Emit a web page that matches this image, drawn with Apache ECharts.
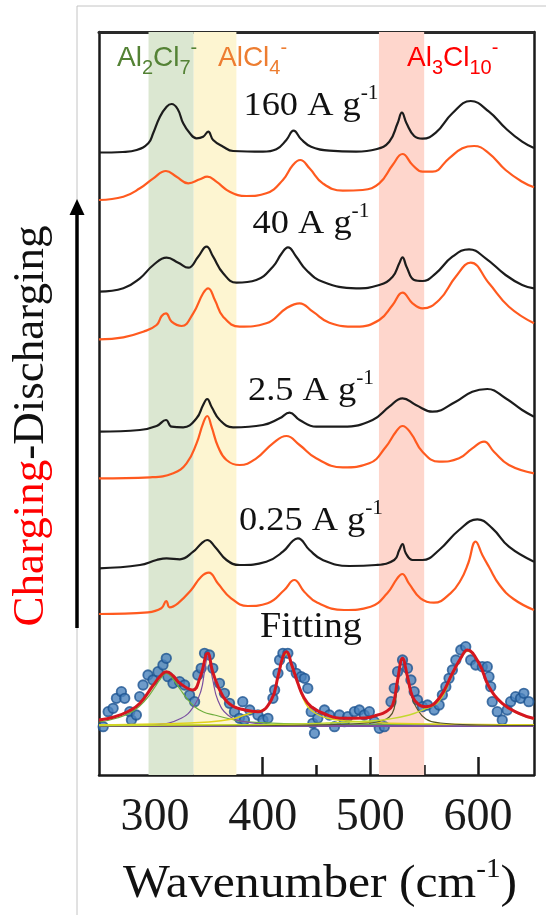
<!DOCTYPE html>
<html><head><meta charset="utf-8">
<script src="https://cdn.jsdelivr.net/npm/echarts@6/dist/echarts.min.js"></script>
<style>html,body{margin:0;padding:0;background:#fff}#c{width:546px;height:915px}</style>
</head><body><div id="c"></div>
<script>
// ---- axis / annotation data ----
const xMin = 248, xMax = 652;
const xTicks = [300, 400, 500, 600];
const xMinorTicks = [350, 450, 550];
const bandGreen = [294, 336];
const bandYellow = [336, 375.6];
const bandRed = [508, 550];

// ---- spectra (wavenumber, intensity a.u. incl. stack offset) ----
const dis160 = [[248,622.5],[270,623],[283,625],[293.8,631.7],[298.3,641.7],[304.6,658.3],[310.8,668.3],[315.4,671],[321,666],[326.2,651.7],[332.4,641.7],[338.6,636.7],[344.7,638.3],[349.4,643.3],[354,635],[363.3,628.3],[372.5,624],[400.3,623.3],[412.7,625.7],[422,635],[428.7,644.3],[435.8,635.7],[445,628.3],[462,624.3],[486.8,623.3],[505.3,625.7],[517.6,633.3],[525.3,651.7],[529.3,662.3],[533.6,651.7],[540.7,639],[548.4,636.3],[560.8,642.3],[576.2,661.7],[593.2,674],[610.2,663.3],[625.6,646.7],[641,633.3],[652,627]];
const chg160 = [[248,575],[270.6,578.3],[286,586.7],[298.5,596.7],[310.2,604],[320,598.3],[330.9,591.7],[341.7,595.7],[348.5,598.3],[357,593.3],[369.4,583.3],[384.9,579],[403.4,581.7],[418.8,595],[428.1,610],[434.9,615],[443.5,606.7],[455.8,591.7],[474.4,584.3],[492.9,585],[508.3,591.7],[520.7,610],[529.9,621],[539.2,610],[548.4,603.3],[557.7,603.3],[573.1,616.7],[585.5,626.7],[596.3,629],[610.2,621.7],[625.6,605],[641,593.3],[652,587.7]];
const dis40 = [[248,483.3],[270.6,486.7],[286,496.7],[298.5,510],[310.8,517.3],[321.6,512.3],[330.9,507.3],[340.1,518.3],[347.9,528.3],[354,518.3],[363.3,501.7],[375.6,492.3],[394.1,495],[409.5,508.3],[417.3,521],[423.5,527.7],[431.2,518.3],[440.5,505],[455.8,493.3],[486.8,486.7],[508.3,490],[520.7,498.3],[526.9,511.7],[529.9,517.7],[533.6,508.3],[540.7,495],[548.4,494],[560.8,501.7],[576.2,518.3],[591.7,525.7],[607.1,516.7],[625.6,500],[641,490],[652,486.7]];
const chg40 = [[248,435.7],[270.6,437.7],[289.2,443.3],[301.5,450],[306.2,459],[310.2,461.7],[315.4,453.3],[324.7,449],[335.5,461.7],[344.7,481.7],[349.4,486.7],[355.6,475],[363.3,458.3],[378.7,448.3],[403.4,451.7],[422,466.7],[434.3,471.7],[446.6,463.3],[462,452.3],[486.8,448.3],[508.3,455],[520.7,470],[529.9,482.3],[539.2,471.7],[548.4,466.7],[563.9,475],[579.3,498.3],[593.2,512.3],[610.2,491.7],[628.7,468.3],[652,451.7]];
const dis2p5 = [[248,343.3],[286,345],[301.5,349],[310.2,355],[315.4,348.3],[326.2,347.7],[338.6,356.7],[344.7,370],[348.5,376],[352.5,368.3],[360.2,355],[372.5,347.7],[400.3,350],[415.7,356.7],[425,362.3],[434.3,355],[449.7,348.3],[474.4,348.3],[502.1,355],[517.6,368.3],[529.9,376.7],[542.3,370],[557.7,363.3],[579.3,373.3],[594.7,383.3],[608.6,386],[625.6,376.7],[641,365],[652,358.3]];
const chg2p5 = [[248,296.7],[295.4,297.7],[317,301.7],[329.3,311.7],[338.6,331.7],[344.7,351.7],[348.5,359],[352.5,348.3],[358.6,328.3],[366.4,315],[378.7,310],[394.1,316.7],[409.5,331.7],[422,339],[434.3,330],[449.7,316.7],[474.4,307.7],[499,311.7],[514.5,328.3],[523.8,343.3],[529.9,349],[537.7,341.7],[548.4,323.3],[563.9,313.3],[582.4,316.7],[594.7,326.7],[605.6,333.3],[614.8,323.3],[628.7,310],[652,301.7]];
const dis0p25 = [[248,206.7],[286,210],[301.5,215],[310.8,216.7],[323.1,215.7],[335.5,223.3],[343.2,231.7],[348.5,235],[355.6,228.3],[366.4,215],[378.7,210],[403.4,213.3],[418.8,223.3],[428.1,234.3],[432.7,236.7],[443.5,225],[455.8,215],[480.6,209],[505.3,210],[522.2,215],[526.9,225],[529.9,231],[533,221.7],[539.2,215],[548.4,215],[563.9,225],[582.4,245],[599.4,255.7],[613.3,246.7],[628.7,228.3],[652,213.3]];
const chg0p25 = [[248,161],[293.5,162.7],[305.9,166.7],[310.5,174],[313.6,167.7],[321.3,171.7],[333.6,185],[342.9,198.3],[350,202.3],[358.3,191.7],[370.7,176.7],[386.1,169],[404.6,171.7],[420.1,185],[429.4,195],[438.6,183.3],[450.9,172.3],[475.6,165],[500.3,168.3],[515.7,181.7],[525,196.7],[529.6,201],[535.8,191.7],[546.6,176.7],[559,172.3],[574.4,181.7],[584,195],[591,212],[597.8,233.3],[604,220],[610.2,208],[620,190],[633,176],[652,165]];

// ---- fitting panel ----
const fitPoints = [[251.9,48.3],[256.5,63.3],[261.1,66.7],[264.2,76.7],[268.8,83.3],[271.9,76.7],[276.6,63.3],[278.1,55],[282.7,60],[285.8,78.3],[288.9,90],[293.5,100],[298.1,95],[302.8,103.3],[307.4,110],[310.5,116.7],[312,98.3],[316.7,91.7],[322.9,93.3],[327.5,90],[332.1,80],[336.8,73.3],[339.8,100],[342.9,106.7],[346,121.7],[350.6,120],[353.7,106.7],[359.9,91.7],[364.5,81.7],[369.2,71.7],[373.8,63.3],[378.4,56.7],[381.5,73.3],[383.1,55],[388,65],[395.6,60],[400.3,55],[404.9,56.7],[409.5,76.7],[411.1,85],[414.2,101.7],[415.7,115],[418.8,121.7],[423.4,121.7],[426.6,108.3],[431.2,101.7],[435.8,98.3],[438.9,96.7],[441.9,86.7],[445.1,63.3],[446.6,51.7],[448.1,41.7],[451.2,56.7],[457.4,65],[462,60],[466.7,48.3],[471.3,60],[475.9,53.3],[479,58.3],[485.2,63.3],[489.8,65],[494.4,60],[499.1,63.3],[503.7,53.3],[508.3,46.7],[513,48.3],[519.2,73.3],[522.2,86.7],[525.3,103.3],[529.9,115],[534.5,106.7],[537.7,95],[540.7,83.3],[543.8,75],[548.4,68.3],[553.1,70],[559.3,65],[563.9,70],[566.9,80],[570.1,88.3],[573.1,96.7],[576.2,105],[579.4,115],[584,125],[588.6,128.3],[593.2,115],[597.9,110],[604,108.3],[608.6,108.3],[610.2,98.3],[611.8,88.3],[613.2,73.3],[617.9,63.3],[622.5,55],[627.1,65],[630.3,73.3],[634.9,78.3],[639.5,76.7],[642.6,81.7],[647.2,73.3]];
const fitSum = [[248,55],[262,58],[276,64],[286,71.7],[298.5,90],[305,99],[310.5,103.3],[317,99],[323.1,91.7],[335.2,85],[342,98],[349,121.7],[354,101.7],[363.3,78.3],[372,69],[383.3,65],[395.6,63.3],[408,75],[414.2,98.3],[418.8,118.3],[422,123.3],[427,110],[432.7,91.7],[438,78],[445.1,68.3],[460,60],[475.9,56.7],[495,57],[506.8,60],[514,63],[520.7,70],[525.3,95],[529.9,116.7],[534.5,98.3],[539.2,78.3],[545.4,70],[551.6,68.3],[563.9,76.7],[576.2,101.7],[584,117],[590.1,125],[600.9,111.7],[610.2,88.3],[622.5,71.7],[638,61.7],[652,56.5]];
const compA = [[248,53],[265,57],[280,64],[292,76],[300,88],[305,96],[310.5,101.5],[316,97],[323.8,85],[330,76],[336.8,68.3],[345,63],[355.2,60],[370,56],[383,53.3],[420,51.5],[500,50.5],[652,50]];
const compB = [[248,49],[300,50.5],[324.4,56.7],[336.8,70],[342.9,85],[346,103.3],[349,118.3],[353.7,95],[358.3,75],[367.6,60],[383,53.3],[420,50],[652,49]];
const compC = [[248,50],[300,51],[350,53],[372,56],[383.3,60],[395,64],[401.9,66],[409.5,78.3],[414.2,97],[418.8,116],[422,121.5],[427,108],[432.7,91.7],[437,78],[441.9,68.3],[450,61],[460.5,56.7],[480,54],[506.8,52.3],[560,51],[652,50]];
const compD = [[248,49],[450,50],[500,52],[510,54],[517.6,58],[522,66],[525.3,90],[529.9,115],[534.5,96],[538,80],[542.3,68.3],[551.6,56],[565,52],[600,50],[652,49.5]];
const compE = [[248,49.5],[400,50.5],[460,52],[500,54],[517.6,56],[536.1,60],[548.4,65],[563.9,74],[576.2,100],[584,116],[590.1,124],[600.9,111],[610.2,88],[622.5,71],[638,61],[652,56]];
const baseY = [[248,50],[652,50]];
const baseP = [[248,48.5],[652,48.5]];

// ---- labels ----
const rateLabels = [['160 A g', 84], ['40 A g', 202], ['2.5 A g', 369], ['0.25 A g', 499]];

const BLACK = '#1c1c1c', ORANGE = '#ff5a1f';
const SERIF = '"Liberation Serif","Times New Roman",serif';
const SANS = '"Liberation Sans",Arial,sans-serif';

function line(data, color, width, z) {
  return {type:'line', data, smooth:0.45, showSymbol:false, symbol:'none',
    lineStyle:{color, width}, z, silent:true, animation:false};
}

const series = [
  {type:'line', data:[], z:1, silent:true, animation:false,
   markArea:{silent:true, data:[
     [{xAxis:bandGreen[0], itemStyle:{color:'#dbe7d1'}}, {xAxis:bandGreen[1]}],
     [{xAxis:bandYellow[0], itemStyle:{color:'#fdf5d1'}}, {xAxis:bandYellow[1]}],
     [{xAxis:bandRed[0], itemStyle:{color:'#fed6cc'}}, {xAxis:bandRed[1]}]
   ]}},
  line(dis160, BLACK, 2.2, 5), line(chg160, ORANGE, 2.2, 5),
  line(dis40, BLACK, 2.2, 5), line(chg40, ORANGE, 2.2, 5),
  line(dis2p5, BLACK, 2.2, 5), line(chg2p5, ORANGE, 2.2, 5),
  line(dis0p25, BLACK, 2.2, 5), line(chg0p25, ORANGE, 2.2, 5),
  {type:'scatter', data:fitPoints, symbolSize:9.5, z:3, silent:true, animation:false,
   itemStyle:{color:'#4a82bd', borderColor:'#1d5491', borderWidth:1.8}},
  line(baseY, '#d8d21a', 1.5, 4), line(baseP, '#7a4fa0', 1.2, 4),
  line(compA, '#6fae3e', 1.2, 4), line(compB, '#7a4fa0', 1.2, 4),
  line(compC, '#e2d21c', 1.4, 4), line(compD, '#55552a', 1.2, 4),
  line(compE, '#c3d82e', 1.4, 4),
  line(fitSum, '#d4161f', 3, 6)
];

const graphics = [
  {type:'line', shape:{x1:77, y1:6, x2:77, y2:915}, style:{stroke:'#c4c4c4', lineWidth:1}, z:1},
  {type:'line', shape:{x1:77, y1:6, x2:546, y2:6}, style:{stroke:'#c4c4c4', lineWidth:1}, z:1},
  {type:'line', shape:{x1:77, y1:628, x2:77, y2:212}, style:{stroke:'#000', lineWidth:3.5}, z:10},
  {type:'polygon', shape:{points:[[77,199],[69.5,215],[84.5,215]]}, style:{fill:'#000'}, z:10},
  {type:'text', x:31, y:426, rotation:Math.PI/2, z:10, style:{
    text:'{r|Charging}{k|-Discharging}', align:'center', verticalAlign:'middle',
    rich:{r:{fontSize:45, fontFamily:SERIF, fill:'#ff0000'}, k:{fontSize:45, fontFamily:SERIF, fill:'#111'}}}},
  {type:'text', left:117, top:38, z:10, style:{
    text:'{a|Al}{s|2}{a|Cl}{s|7}{p|-}',
    rich:{a:{fontSize:28, fontFamily:SANS, fill:'#548235', lineHeight:40},
          s:{fontSize:20, fontFamily:SANS, fill:'#548235', lineHeight:20, verticalAlign:'bottom'},
          p:{fontSize:20, fontFamily:SANS, fill:'#548235', lineHeight:20, verticalAlign:'top'}}}},
  {type:'text', left:218, top:38, z:10, style:{
    text:'{a|AlCl}{s|4}{p|-}',
    rich:{a:{fontSize:28, fontFamily:SANS, fill:'#ed7d31', lineHeight:40},
          s:{fontSize:20, fontFamily:SANS, fill:'#ed7d31', lineHeight:20, verticalAlign:'bottom'},
          p:{fontSize:20, fontFamily:SANS, fill:'#ed7d31', lineHeight:20, verticalAlign:'top'}}}},
  {type:'text', left:407, top:38, z:10, style:{
    text:'{a|Al}{s|3}{a|Cl}{s|10}{p|-}',
    rich:{a:{fontSize:28, fontFamily:SANS, fill:'#ff0000', lineHeight:40},
          s:{fontSize:20, fontFamily:SANS, fill:'#ff0000', lineHeight:20, verticalAlign:'bottom'},
          p:{fontSize:20, fontFamily:SANS, fill:'#ff0000', lineHeight:20, verticalAlign:'top'}}}},
  {type:'text', x:311, y:610, scaleX:1.09, z:10, style:{text:'Fitting', align:'center', verticalAlign:'top',
    font:'35px ' + SERIF, fill:'#111'}},
  {type:'text', x:320, y:856, scaleX:1.08, z:10, style:{
    text:'{n|Wavenumber (cm}{s|-1}{n|)}', align:'center', verticalAlign:'top',
    rich:{n:{fontSize:46, fontFamily:SERIF, fill:'#111', lineHeight:58},
          s:{fontSize:27, fontFamily:SERIF, fill:'#111', lineHeight:47, verticalAlign:'top'}}}}
];
rateLabels.forEach(([t, y]) => graphics.push({type:'text', x:311, y, scaleX:1.07, z:10, style:{
  text:'{n|' + t + '}{s|-1}', align:'center', verticalAlign:'top',
  rich:{n:{fontSize:34, fontFamily:SERIF, fill:'#111', lineHeight:44},
        s:{fontSize:20, fontFamily:SERIF, fill:'#111', lineHeight:36, verticalAlign:'top'}}}}));

const axisLineStyle = {color:'#1a1a1a', width:2.5};
const option = {
  animation:false,
  backgroundColor:'#fff',
  grid:{left:99, right:12, top:32, bottom:140, containLabel:false},
  xAxis:[
    {type:'value', min:xMin, max:xMax, position:'bottom',
     axisLine:{show:true, onZero:false, lineStyle:axisLineStyle},
     axisTick:{show:true, inside:true, length:18, customValues:xTicks, lineStyle:{color:'#1a1a1a', width:2.5}},
     axisLabel:{show:true, customValues:xTicks, fontSize:46, fontFamily:SERIF, color:'#1a1a1a', margin:20},
     splitLine:{show:false}},
    {type:'value', min:xMin, max:xMax, position:'bottom',
     axisLine:{show:false, onZero:false},
     axisTick:{show:true, inside:true, length:10, customValues:xMinorTicks, lineStyle:{color:'#1a1a1a', width:2.5}},
     axisLabel:{show:false}, splitLine:{show:false}},
    {type:'value', min:xMin, max:xMax, position:'top',
     axisLine:{show:true, onZero:false, lineStyle:{color:'#2a2a2a', width:3}},
     axisTick:{show:false}, axisLabel:{show:false}, splitLine:{show:false}}
  ],
  yAxis:[
    {type:'value', min:0, max:743, position:'left',
     axisLine:{show:true, onZero:false, lineStyle:axisLineStyle},
     axisTick:{show:false}, axisLabel:{show:false}, splitLine:{show:false}},
    {type:'value', min:0, max:743, position:'right',
     axisLine:{show:true, onZero:false, lineStyle:axisLineStyle},
     axisTick:{show:false}, axisLabel:{show:false}, splitLine:{show:false}}
  ],
  series: series,
  graphic: graphics
};
const chart = echarts.init(document.getElementById('c'), null, {renderer:'canvas'});
chart.setOption(option);
</script></body></html>
